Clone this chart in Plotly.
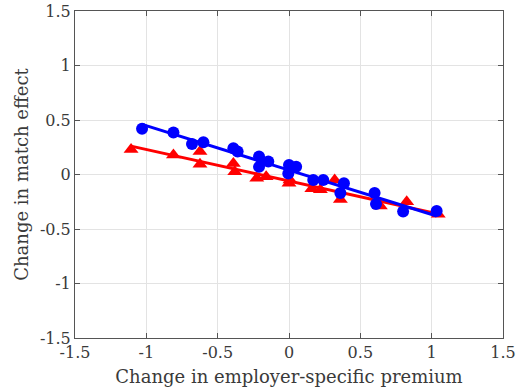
import numpy as np
import plotly.graph_objects as go

# Change in employer-specific premium (x) vs change in match effect (y)
blue_x = [-1.03, -0.81, -0.68, -0.60, -0.39, -0.36, -0.21, -0.145, -0.21, 0.0,
          0.05, -0.005, 0.17, 0.24, 0.385, 0.36, 0.60, 0.61, 0.80, 1.035]
blue_y = [0.42, 0.385, 0.28, 0.295, 0.24, 0.21, 0.165, 0.12, 0.07, 0.087,
          0.072, 0.01, -0.05, -0.05, -0.08, -0.17, -0.17, -0.27, -0.34, -0.335]

red_x = [-1.107, -0.81, -0.624, -0.624, -0.39, -0.38, -0.226, -0.16, 0.007, 0.0,
         0.16, 0.22, 0.32, 0.36, 0.64, 0.825, 1.046]
red_y = [0.23, 0.18, 0.21, 0.094, 0.10, 0.026, -0.035, -0.02, -0.05, -0.08,
         -0.13, -0.14, -0.05, -0.23, -0.29, -0.25, -0.365]

tick_vals = [-1.5, -1, -0.5, 0, 0.5, 1, 1.5]
tick_text = ["-1.5", "-1", "-0.5", "0", "0.5", "1", "1.5"]

BLUE = "#0000ff"
RED = "#ff0000"
FONT = "DejaVu Serif"
TEXT = "#3a3a3a"


def fit_line(xs, ys):
    xs = np.asarray(xs)
    slope, icpt = np.polyfit(xs, np.asarray(ys), 1)
    lx = np.array([xs.min(), xs.max()])
    return lx, icpt + slope * lx


fig = go.Figure()

for xs, ys, color, symbol, size in [
    (red_x, red_y, RED, "triangle-up", 13),
    (blue_x, blue_y, BLUE, "circle", 12),
]:
    lx, ly = fit_line(xs, ys)
    fig.add_trace(go.Scatter(x=lx, y=ly, mode="lines",
                             line=dict(color=color, width=3), showlegend=False))
    fig.add_trace(go.Scatter(x=xs, y=ys, mode="markers",
                             marker=dict(color=color, symbol=symbol, size=size,
                                         line=dict(width=0)),
                             showlegend=False))

axis_common = dict(
    range=[-1.5, 1.5],
    tickvals=tick_vals,
    ticktext=tick_text,
    showgrid=True,
    gridcolor="#e3e3e3",
    gridwidth=1,
    zeroline=False,
    showline=True,
    linecolor="#555555",
    linewidth=1,
    mirror="ticks",
    ticks="inside",
    ticklen=5,
    tickcolor="#555555",
    automargin=False,
    tickfont=dict(family=FONT, size=16, color=TEXT),
)

fig.update_xaxes(**axis_common,
                 title=dict(text="Change in employer-specific premium",
                            font=dict(family=FONT, size=18, color=TEXT),
                            standoff=9))
fig.update_yaxes(**axis_common,
                 title=dict(text="Change in match effect",
                            font=dict(family=FONT, size=18, color=TEXT),
                            standoff=6))

fig.update_layout(
    width=517, height=390,
    margin=dict(l=75, r=14, t=11, b=52),
    plot_bgcolor="white",
    paper_bgcolor="white",
)

fig.write_html("out.html")
